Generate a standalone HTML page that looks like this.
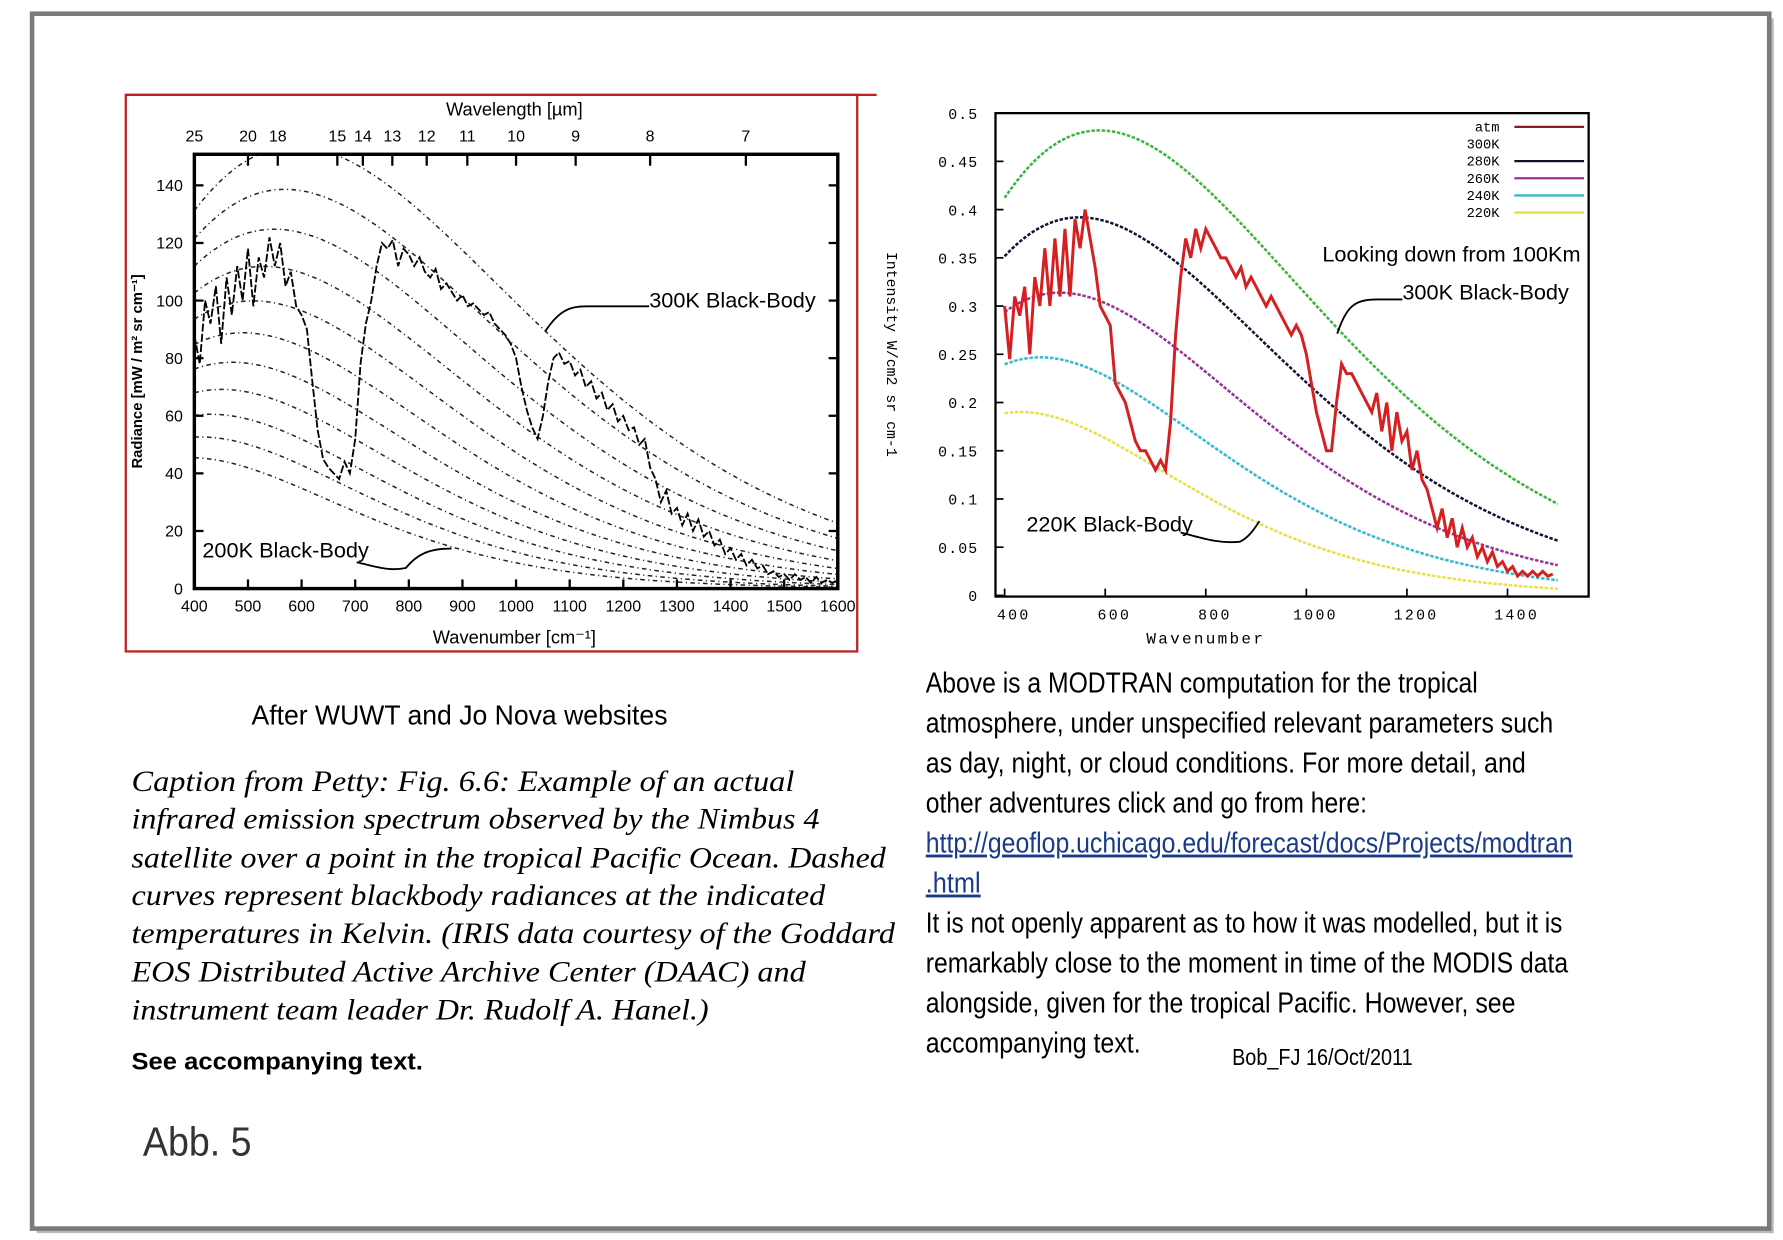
<!DOCTYPE html>
<html><head><meta charset="utf-8"><style>
html,body{margin:0;padding:0;background:#fff;}
svg{display:block;}
.sans{font-family:"Liberation Sans Narrow","Liberation Sans",sans-serif;}
.serif{font-family:"Liberation Serif",serif;font-style:italic;}
.mono{font-family:"Liberation Mono",monospace;}
</style></head><body>
<svg id="fig" width="1783" height="1240" viewBox="0 0 1560 1085" xmlns="http://www.w3.org/2000/svg">
<defs>
<clipPath id="clipL"><rect x="170" y="135" width="563" height="380"/></clipPath>
<clipPath id="clipR"><rect x="871" y="99" width="519" height="423"/></clipPath>
</defs>
<rect x="0" y="0" width="1560" height="1085" fill="#fff"/>
<rect x="32" y="16" width="1520" height="1063" fill="#bbb"/>
<rect x="28" y="12" width="1520" height="1063" fill="#fff" stroke="#7a7a7a" stroke-width="4"/>

<!-- LEFT CHART -->
<g>
<rect x="110" y="83" width="640" height="487" fill="#fff" stroke="#b22" stroke-width="2"/>
<line x1="110" y1="83" x2="767" y2="83" stroke="#b22" stroke-width="2"/>
<g id="leftCurves" clip-path="url(#clipL)"></g>
<rect x="170" y="135" width="563" height="380" fill="none" stroke="#000" stroke-width="3"/>
<g id="leftAxes"></g>
<text x="450" y="101" text-anchor="middle" class="sans" font-size="16">Wavelength [µm]</text>
<text x="450" y="563" text-anchor="middle" class="sans" font-size="16">Wavenumber [cm⁻¹]</text>
<text transform="translate(124,325) rotate(-90)" text-anchor="middle" class="sans" font-size="13" font-weight="bold">Radiance [mW / m² sr cm⁻¹]</text>
<text x="568" y="269" class="sans" font-size="19">300K Black-Body</text>
<path d="M477,290 C490,270 500,268 515,268 L568,268" fill="none" stroke="#000" stroke-width="1.6"/>
<text x="177" y="488" class="sans" font-size="19">200K Black-Body</text>
<path d="M312,492 C330,496 340,500 355,497 C365,485 375,480 395,480" fill="none" stroke="#000" stroke-width="1.6"/>
</g>

<!-- RIGHT CHART -->
<g>
<g id="rightCurves" clip-path="url(#clipR)"></g>
<rect x="871" y="99" width="519" height="423" fill="none" stroke="#000" stroke-width="2"/>
<g id="rightAxes"></g>
<text x="1055" y="563" text-anchor="middle" class="mono" font-size="14" letter-spacing="2">Wavenumber</text>
<text transform="translate(776,310) rotate(90)" text-anchor="middle" class="mono" font-size="13">Intensity W/cm2 sr cm-1</text>
<g id="legend"></g>
<text x="1157" y="229" class="sans" font-size="19">Looking down from 100Km</text>
<text x="1227" y="262" class="sans" font-size="19">300K Black-Body</text>
<path d="M1170,292 C1178,268 1185,262 1205,262 L1227,262" fill="none" stroke="#000" stroke-width="1.6"/>
<text x="898" y="465" class="sans" font-size="19">220K Black-Body</text>
<path d="M1033,466 C1050,470 1065,476 1085,474 C1093,470 1098,462 1102,456" fill="none" stroke="#000" stroke-width="1.6"/>
</g>

<!-- TEXT -->
<g>
<text x="220" y="634" class="sans" font-size="24" textLength="364" lengthAdjust="spacingAndGlyphs">After WUWT and Jo Nova websites</text>
<g class="serif" font-size="26">
<text x="115" y="692" textLength="580" lengthAdjust="spacingAndGlyphs">Caption from Petty: Fig. 6.6: Example of an actual</text>
<text x="115" y="725" textLength="602" lengthAdjust="spacingAndGlyphs">infrared emission spectrum observed by the Nimbus 4</text>
<text x="115" y="759" textLength="660" lengthAdjust="spacingAndGlyphs">satellite over a point in the tropical Pacific Ocean. Dashed</text>
<text x="115" y="792" textLength="607" lengthAdjust="spacingAndGlyphs">curves represent blackbody radiances at the indicated</text>
<text x="115" y="825" textLength="668" lengthAdjust="spacingAndGlyphs">temperatures in Kelvin. (IRIS data courtesy of the Goddard</text>
<text x="115" y="859" textLength="590" lengthAdjust="spacingAndGlyphs">EOS Distributed Active Archive Center (DAAC) and</text>
<text x="115" y="892" textLength="505" lengthAdjust="spacingAndGlyphs">instrument team leader Dr. Rudolf A. Hanel.)</text>
</g>
<text x="115" y="936" font-family="Liberation Sans,sans-serif" font-weight="bold" font-size="21" textLength="255" lengthAdjust="spacingAndGlyphs">See accompanying text.</text>
<text x="125" y="1011" class="sans" font-size="36" fill="#333" textLength="95" lengthAdjust="spacingAndGlyphs">Abb. 5</text>
</g>
<g class="sans" font-size="25">
<text x="810" y="606" textLength="483" lengthAdjust="spacingAndGlyphs">Above is a MODTRAN computation for the tropical</text>
<text x="810" y="641" textLength="549" lengthAdjust="spacingAndGlyphs">atmosphere, under unspecified relevant parameters such</text>
<text x="810" y="676" textLength="525" lengthAdjust="spacingAndGlyphs">as day, night, or cloud conditions.  For more detail, and</text>
<text x="810" y="711" textLength="386" lengthAdjust="spacingAndGlyphs">other adventures click and go from here:</text>
<text x="810" y="746" fill="#1a3a8a" text-decoration="underline" textLength="566" lengthAdjust="spacingAndGlyphs">http://geoflop.uchicago.edu/forecast/docs/Projects/modtran</text>
<text x="810" y="781" fill="#1a3a8a" text-decoration="underline" textLength="48" lengthAdjust="spacingAndGlyphs">.html</text>
<text x="810" y="816" textLength="557" lengthAdjust="spacingAndGlyphs">It is not openly apparent as to how it was modelled, but it is</text>
<text x="810" y="851" textLength="562" lengthAdjust="spacingAndGlyphs">remarkably close to the moment in time of the MODIS data</text>
<text x="810" y="886" textLength="516" lengthAdjust="spacingAndGlyphs">alongside, given for the tropical Pacific.  However, see</text>
<text x="810" y="921" textLength="188" lengthAdjust="spacingAndGlyphs">accompanying text.</text>
<text x="1078" y="932" font-size="20" textLength="158" lengthAdjust="spacingAndGlyphs">Bob_FJ  16/Oct/2011</text>
</g>
</svg>
<script>
// ---- left chart data ----
const leftTemps = [200,210,220,230,240,250,260,270,280,290,300];
const leftXTicks = [400,500,600,700,800,900,1000,1100,1200,1300,1400,1500,1600];
const leftYTicks = [0,20,40,60,80,100,120,140];
const leftWavelengths = [25,20,18,15,14,13,12,11,10,9,8,7];
const leftObsStart = 400, leftObsStep = 10;
const leftObs = [88,78,100,92,105,85,108,95,112,100,118,98,115,108,122,112,120,105,110,98,95,90,72,55,45,42,40,38,44,40,52,78,92,100,112,120,118,121,112,118,116,112,115,110,108,111,104,106,103,100,102,98,99,97,95,96,92,90,88,85,80,70,62,56,52,60,72,80,82,78,79,74,76,70,72,66,68,62,64,58,60,55,56,50,52,42,38,30,34,26,28,22,26,20,24,18,20,15,17,12,14,10,12,8,10,7,8,5,6,4,5,3,5,3,4,2,4,2,3,2,3];
// ---- right chart data ----
const rightTemps = [300,280,260,240,220];
const rightColors = ['#3bb53b','#111133','#993399','#33bbcc','#e8e040'];
const rightXTicks = [400,600,800,1000,1200,1400];
const rightYTicks = [0,0.05,0.1,0.15,0.2,0.25,0.3,0.35,0.4,0.45,0.5];
const rightYLabels = ['0','0.05','0.1','0.15','0.2','0.25','0.3','0.35','0.4','0.45','0.5'];
const rightObsStart = 400, rightObsStep = 10;
const rightObs = [0.30,0.245,0.31,0.29,0.32,0.25,0.33,0.30,0.36,0.30,0.37,0.31,0.38,0.31,0.39,0.36,0.40,0.37,0.34,0.30,0.29,0.28,0.22,0.21,0.20,0.18,0.16,0.15,0.15,0.14,0.13,0.14,0.13,0.18,0.27,0.33,0.37,0.35,0.38,0.36,0.38,0.37,0.36,0.35,0.35,0.34,0.33,0.34,0.32,0.33,0.32,0.31,0.30,0.31,0.30,0.29,0.28,0.27,0.28,0.27,0.25,0.22,0.19,0.17,0.15,0.15,0.20,0.24,0.23,0.23,0.22,0.21,0.20,0.19,0.21,0.17,0.20,0.15,0.19,0.16,0.17,0.13,0.15,0.12,0.11,0.09,0.07,0.09,0.06,0.08,0.05,0.07,0.05,0.06,0.04,0.05,0.035,0.045,0.03,0.035,0.025,0.03,0.02,0.025,0.02,0.025,0.02,0.025,0.02,0.022];
const legendLabels = ['atm','300K','280K','260K','240K','220K'];
const legendColors = ['#8b1a1a','#ffffff','#111133','#993399','#33bbcc','#e8e040'];

const NS='http://www.w3.org/2000/svg';
function mk(tag,attrs,parent){const e=document.createElementNS(NS,tag);for(const k in attrs)e.setAttribute(k,attrs[k]);parent.appendChild(e);return e;}
function planck(v,T){return 1.191e-5*v*v*v/(Math.exp(1.4388*v/T)-1);}
const xL=v=>170+(v-400)/1200*563, yL=r=>515-r/150*378;
const xR=v=>879+(v-400)/200*88, yR=i=>521-i/0.5*422;

const lc=document.getElementById('leftCurves'), la=document.getElementById('leftAxes');
leftTemps.forEach(T=>{let d='';for(let v=400;v<=1600;v+=5){d+=(v===400?'M':'L')+xL(v).toFixed(1)+','+yL(planck(v,T)).toFixed(1);}
const p=mk('path',{d:d,fill:'none',stroke:'#222','stroke-width':1.3,'stroke-dasharray':'4,3,1,3'},lc);

});
{let d='';leftObs.forEach((r,i)=>{const v=leftObsStart+i*leftObsStep;d+=(i?'L':'M')+xL(v).toFixed(1)+','+yL(r).toFixed(1);});
const p=mk('path',{d:d,fill:'none',stroke:'#000','stroke-width':1.6,'stroke-dasharray':'7,2'},lc);

}
leftXTicks.forEach(v=>{mk('line',{x1:xL(v),y1:515,x2:xL(v),y2:507,stroke:'#000','stroke-width':2},la);
const t=mk('text',{x:xL(v),y:535,'text-anchor':'middle','font-size':14,class:'sans'},la);t.textContent=v;

});
leftYTicks.forEach(r=>{mk('line',{x1:170,y1:yL(r),x2:178,y2:yL(r),stroke:'#000','stroke-width':2},la);
mk('line',{x1:733,y1:yL(r),x2:725,y2:yL(r),stroke:'#000','stroke-width':2},la);
const t=mk('text',{x:160,y:yL(r)+5,'text-anchor':'end','font-size':14,class:'sans'},la);t.textContent=r;

});
leftWavelengths.forEach(w=>{const v=10000/w;mk('line',{x1:xL(v),y1:135,x2:xL(v),y2:145,stroke:'#000','stroke-width':2},la);
const t=mk('text',{x:xL(v),y:124,'text-anchor':'middle','font-size':14,class:'sans'},la);t.textContent=w;

});

const rc=document.getElementById('rightCurves'), ra=document.getElementById('rightAxes');
rightTemps.forEach((T,k)=>{let d='';for(let v=400;v<=1500;v+=5){d+=(v===400?'M':'L')+xR(v).toFixed(1)+','+yR(planck(v,T)*Math.PI/1000).toFixed(1);}
const p=mk('path',{d:d,fill:'none',stroke:rightColors[k],'stroke-width':2.2,'stroke-dasharray':'3,1.5'},rc);

});
{let d='';rightObs.forEach((r,i)=>{const v=rightObsStart+i*rightObsStep;d+=(i?'L':'M')+xR(v).toFixed(1)+','+yR(r).toFixed(1);});
const p=mk('path',{d:d,fill:'none',stroke:'#d42020','stroke-width':2.6},rc);

}
rightXTicks.forEach(v=>{mk('line',{x1:xR(v),y1:522,x2:xR(v),y2:515,stroke:'#000','stroke-width':1.5},ra);
const t=mk('text',{x:xR(v)+8,y:542,'text-anchor':'middle','font-size':13,class:'mono','letter-spacing':2},ra);t.textContent=v;

});
rightYTicks.forEach((i,k)=>{mk('line',{x1:871,y1:yR(i),x2:878,y2:yR(i),stroke:'#000','stroke-width':1.5},ra);
const t=mk('text',{x:856,y:yR(i)+5,'text-anchor':'end','font-size':13,class:'mono','letter-spacing':1},ra);t.textContent=rightYLabels[k];

});
const lg=document.getElementById('legend');
legendLabels.forEach((s,k)=>{const y=111+k*15;
const t=mk('text',{x:1312,y:y+4,'text-anchor':'end','font-size':12,class:'mono'},lg);t.textContent=s;


const l=mk('line',{x1:1325,y1:y,x2:1386,y2:y,stroke:legendColors[k],'stroke-width':2},lg);

});
</script>
</body></html>
